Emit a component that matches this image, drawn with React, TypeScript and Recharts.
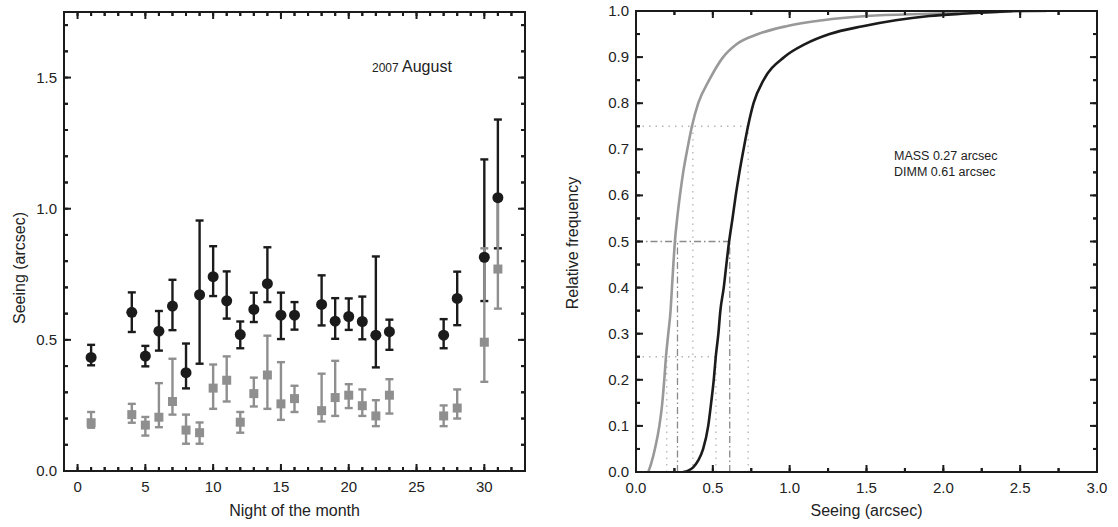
import React from "react";
import { ComposedChart, Scatter, ErrorBar, Line, XAxis, YAxis, ReferenceLine, ReferenceArea } from "recharts";

// nightly medians with lower / upper whisker values (arcsec)
const NIGHTS = [1, 4, 5, 6, 7, 8, 9, 10, 11, 12, 13, 14, 15, 16, 18, 19, 20, 21, 22, 23, 27, 28, 30, 31];
const DIMM = [0.433, 0.605, 0.438, 0.533, 0.629, 0.375, 0.672, 0.741, 0.649, 0.52, 0.616, 0.714, 0.594, 0.594, 0.635, 0.571, 0.589, 0.57, 0.518, 0.531, 0.518, 0.658, 0.815, 1.042];
const DIMM_LO = [0.403, 0.53, 0.399, 0.459, 0.537, 0.315, 0.409, 0.667, 0.581, 0.468, 0.568, 0.644, 0.503, 0.539, 0.555, 0.504, 0.538, 0.502, 0.395, 0.462, 0.468, 0.556, 0.648, 0.849];
const DIMM_HI = [0.481, 0.681, 0.477, 0.61, 0.729, 0.486, 0.955, 0.857, 0.761, 0.57, 0.68, 0.853, 0.68, 0.644, 0.746, 0.659, 0.658, 0.665, 0.818, 0.577, 0.579, 0.76, 1.188, 1.34];
const MASS = [0.184, 0.215, 0.175, 0.205, 0.265, 0.156, 0.146, 0.316, 0.346, 0.186, 0.295, 0.366, 0.256, 0.276, 0.23, 0.28, 0.289, 0.249, 0.21, 0.289, 0.21, 0.24, 0.491, 0.77];
const MASS_LO = [0.165, 0.184, 0.135, 0.167, 0.215, 0.104, 0.104, 0.237, 0.265, 0.146, 0.246, 0.237, 0.195, 0.225, 0.189, 0.21, 0.24, 0.21, 0.171, 0.219, 0.171, 0.2, 0.34, 0.619];
const MASS_HI = [0.225, 0.256, 0.206, 0.335, 0.428, 0.215, 0.185, 0.406, 0.437, 0.225, 0.356, 0.516, 0.415, 0.325, 0.371, 0.42, 0.331, 0.311, 0.27, 0.35, 0.25, 0.311, 0.849, 1.03];

// cumulative distributions
const MASS_CDF_X = [0.08, 0.1, 0.123, 0.152, 0.171, 0.184, 0.195, 0.21, 0.225, 0.234, 0.243, 0.253, 0.268, 0.286, 0.307, 0.334, 0.364, 0.405, 0.476, 0.567, 0.654, 0.794, 0.978, 1.216, 1.5, 1.91, 2.34, 2.67];
const MASS_CDF_Y = [0, 0.02, 0.05, 0.1, 0.15, 0.2, 0.25, 0.3, 0.35, 0.4, 0.45, 0.5, 0.55, 0.6, 0.65, 0.7, 0.75, 0.8, 0.85, 0.9, 0.928, 0.95, 0.967, 0.98, 0.989, 0.994, 0.998, 1.0];
const DIMM_CDF_X = [0.307, 0.34, 0.372, 0.405, 0.437, 0.47, 0.489, 0.506, 0.519, 0.536, 0.549, 0.571, 0.588, 0.606, 0.628, 0.649, 0.673, 0.7, 0.729, 0.765, 0.83, 0.965, 1.1, 1.26, 1.476, 1.69, 1.91, 2.12, 2.34, 2.45];
const DIMM_CDF_Y = [0, 0.003, 0.01, 0.025, 0.05, 0.1, 0.15, 0.2, 0.25, 0.3, 0.35, 0.4, 0.45, 0.5, 0.55, 0.6, 0.65, 0.7, 0.75, 0.8, 0.85, 0.9, 0.928, 0.95, 0.967, 0.98, 0.989, 0.994, 0.998, 1.0];

// quartile guide lines
const QUANT_LEVELS = [0.25, 0.5, 0.75];
const MASS_Q = [0.2, 0.27, 0.37];
const DIMM_Q = [0.52, 0.61, 0.73];

// ticks
const NIGHT_TICKS = [-1, 0, 1, 2, 3, 4, 5, 6, 7, 8, 9, 10, 11, 12, 13, 14, 15, 16, 17, 18, 19, 20, 21, 22, 23, 24, 25, 26, 27, 28, 29, 30, 31, 32, 33];
const SEEING_TICKS = [0, 0.1, 0.2, 0.3, 0.4, 0.5, 0.6, 0.7, 0.8, 0.9, 1.0, 1.1, 1.2, 1.3, 1.4, 1.5, 1.6, 1.7];
const CDF_X_TICKS = [0, 0.25, 0.5, 0.75, 1.0, 1.25, 1.5, 1.75, 2.0, 2.25, 2.5, 2.75, 3.0];
const CDF_Y_TICKS = [0, 0.05, 0.1, 0.15, 0.2, 0.25, 0.3, 0.35, 0.4, 0.45, 0.5, 0.55, 0.6, 0.65, 0.7, 0.75, 0.8, 0.85, 0.9, 0.95, 1.0];

const FONT = "'Liberation Sans', Arial, Helvetica, sans-serif";
const BLACK = "#1b1b1b";
const GREY = "#8f8f8f";

const dimmData = NIGHTS.map((n, i) => ({ night: n, v: DIMM[i], err: [DIMM[i] - DIMM_LO[i], DIMM_HI[i] - DIMM[i]] }));
const massData = NIGHTS.map((n, i) => ({ night: n, v: MASS[i], err: [MASS[i] - MASS_LO[i], MASS_HI[i] - MASS[i]] }));
const massCdf = MASS_CDF_X.map((x, i) => ({ x, y: MASS_CDF_Y[i] }));
const dimmCdf = DIMM_CDF_X.map((x, i) => ({ x, y: DIMM_CDF_Y[i] }));

type Side = "bottom" | "top" | "left" | "right";

const near = (v: number, step: number) => Math.abs(v / step - Math.round(v / step)) < 1e-6;

// major ticks get a longer inward mark and (bottom / left) a label
function makeTick(side: Side, majorStep: number, digits: number | null) {
  return function AxisTick(props: any) {
    const x = Number(props.x);
    const y = Number(props.y);
    const v = Number(props.payload.value);
    const major = near(v, majorStep);
    const len = major ? 7 : 4;
    let x2 = x;
    let y2 = y;
    if (side === "bottom") y2 = y - len;
    if (side === "top") y2 = y + len;
    if (side === "left") x2 = x + len;
    if (side === "right") x2 = x - len;
    const txt = digits === null ? String(Math.round(v)) : v.toFixed(digits);
    return (
      <g>
        <path d={`M${x},${y}L${x2},${y2}`} stroke={BLACK} strokeWidth={2} />
        {major && side === "bottom" && (
          <text x={x} y={y + 21} textAnchor="middle" fontSize={15} fontFamily={FONT} fill="#222">
            {txt}
          </text>
        )}
        {major && side === "left" && (
          <text x={x - 7} y={y + 5} textAnchor="end" fontSize={15} fontFamily={FONT} fill="#222">
            {txt}
          </text>
        )}
      </g>
    );
  };
}

const NightBottomTick = makeTick("bottom", 5, null);
const NightTopTick = makeTick("top", 5, null);
const SeeingLeftTick = makeTick("left", 0.5, 1);
const SeeingRightTick = makeTick("right", 0.5, 1);
const CdfBottomTick = makeTick("bottom", 0.5, 1);
const CdfTopTick = makeTick("top", 0.5, 1);
const CdfLeftTick = makeTick("left", 0.1, 1);
const CdfRightTick = makeTick("right", 0.1, 1);

function makeXTitle(text: string, dy: number) {
  return function XTitle(props: any) {
    const vb = props.viewBox;
    return (
      <text x={vb.x + vb.width / 2} y={vb.y + dy} textAnchor="middle" fontSize={16} fontFamily={FONT} fill="#222">
        {text}
      </text>
    );
  };
}

function makeYTitle(text: string, cx: number, cy: number) {
  return function YTitle() {
    return (
      <text x={cx} y={cy} transform={`rotate(-90 ${cx} ${cy})`} textAnchor="middle" fontSize={16} fontFamily={FONT} fill="#222">
        {text}
      </text>
    );
  };
}

const NightTitle = makeXTitle("Night of the month", 45);
const SeeingYTitle = makeYTitle("Seeing (arcsec)", 25, 268);
const SeeingXTitle = makeXTitle("Seeing (arcsec)", 44);
const FreqTitle = makeYTitle("Relative frequency", 33, 243);

const axisLine = { stroke: BLACK, strokeWidth: 2 };
const tickLine = { stroke: BLACK, strokeWidth: 2 };
const axisCommon = {
  type: "number" as const,
  allowDataOverflow: true,
  interval: 0 as const,
  tickSize: -4,
  tickMargin: 4,
  axisLine,
  tickLine,
};
const noShape = () => <g />;

function NightlyChart() {
  return (
    <ComposedChart width={545} height={527} margin={{ top: 11, right: 19, bottom: 0, left: 0 }}>
      <XAxis {...axisCommon} xAxisId="b" dataKey="night" domain={[-1, 33]} ticks={NIGHT_TICKS} height={56} tick={NightBottomTick} label={{ content: NightTitle }} />
      <XAxis {...axisCommon} xAxisId="t" dataKey="night" orientation="top" domain={[-1, 33]} ticks={NIGHT_TICKS} height={1} tick={NightTopTick} />
      <YAxis {...axisCommon} yAxisId="l" dataKey="v" domain={[0, 1.75]} ticks={SEEING_TICKS} width={64} tick={SeeingLeftTick} label={{ content: SeeingYTitle }} />
      <YAxis {...axisCommon} yAxisId="r" dataKey="v" orientation="right" domain={[0, 1.75]} ticks={SEEING_TICKS} width={1} tick={SeeingRightTick} />
      <ReferenceArea xAxisId="b" yAxisId="l" x1={-1} x2={33} y1={0} y2={1.75} fill="none" stroke={BLACK} strokeWidth={2} />
      {/* hidden series so the mirrored axes get drawn */}
      <Scatter xAxisId="t" yAxisId="r" data={dimmData} dataKey="v" isAnimationActive={false} shape={noShape} />
      <Scatter
        xAxisId="b"
        yAxisId="l"
        data={dimmData}
        dataKey="v"
        isAnimationActive={false}
        shape={(p: any) => <circle cx={p.cx} cy={p.cy} r={5.5} fill={BLACK} />}
      >
        <ErrorBar dataKey="err" direction="y" width={4} stroke={BLACK} strokeWidth={2.4} isAnimationActive={false} />
      </Scatter>
      <Scatter
        xAxisId="b"
        yAxisId="l"
        data={massData}
        dataKey="v"
        isAnimationActive={false}
        shape={(p: any) => <rect x={p.cx - 4.5} y={p.cy - 4.5} width={9} height={9} fill={GREY} />}
      >
        <ErrorBar dataKey="err" direction="y" width={4} stroke={GREY} strokeWidth={2.4} isAnimationActive={false} />
      </Scatter>
    </ComposedChart>
  );
}

function CdfChart() {
  const guides: any[] = [];
  QUANT_LEVELS.forEach((lvl, i) => {
    const dash = i === 1 ? "7 3 1.5 3" : "1.5 5";
    const color = i === 1 ? "#8a8a8a" : "#b5b5b5";
    guides.push({ seg: [{ x: 0, y: lvl }, { x: DIMM_Q[i], y: lvl }], dash, color });
    guides.push({ seg: [{ x: MASS_Q[i], y: 0 }, { x: MASS_Q[i], y: lvl }], dash, color });
    guides.push({ seg: [{ x: DIMM_Q[i], y: 0 }, { x: DIMM_Q[i], y: lvl }], dash, color });
  });
  return (
    <ComposedChart width={573} height={527} margin={{ top: 10, right: 20, bottom: 0, left: 0 }}>
      <XAxis {...axisCommon} xAxisId="b" dataKey="x" domain={[0, 3]} ticks={CDF_X_TICKS} height={55} tick={CdfBottomTick} label={{ content: SeeingXTitle }} />
      <XAxis {...axisCommon} xAxisId="t" dataKey="x" orientation="top" domain={[0, 3]} ticks={CDF_X_TICKS} height={1} tick={CdfTopTick} />
      <YAxis {...axisCommon} yAxisId="l" dataKey="y" domain={[0, 1]} ticks={CDF_Y_TICKS} width={91} tick={CdfLeftTick} label={{ content: FreqTitle }} />
      <YAxis {...axisCommon} yAxisId="r" dataKey="y" orientation="right" domain={[0, 1]} ticks={CDF_Y_TICKS} width={1} tick={CdfRightTick} />
      <ReferenceArea xAxisId="b" yAxisId="l" x1={0} x2={3} y1={0} y2={1} fill="none" stroke={BLACK} strokeWidth={2} />
      {guides.map((g, i) => (
        <ReferenceLine key={i} xAxisId="b" yAxisId="l" segment={g.seg} stroke={g.color} strokeWidth={1.3} strokeDasharray={g.dash} />
      ))}
      <Line xAxisId="t" yAxisId="r" data={massCdf} dataKey="y" stroke="none" dot={false} isAnimationActive={false} />
      <Line xAxisId="b" yAxisId="l" data={massCdf} dataKey="y" type="monotone" stroke="#999999" strokeWidth={2.6} dot={false} isAnimationActive={false} />
      <Line xAxisId="b" yAxisId="l" data={dimmCdf} dataKey="y" type="monotone" stroke={BLACK} strokeWidth={2.6} dot={false} isAnimationActive={false} />
    </ComposedChart>
  );
}

export default function App() {
  const note: React.CSSProperties = { position: "absolute", fontFamily: FONT, color: "#222", whiteSpace: "nowrap" };
  return (
    <div style={{ position: "absolute", left: 0, top: 0, width: 1118, height: 527, background: "#fff" }}>
      <div style={{ position: "absolute", left: 0, top: 0 }}>
        <NightlyChart />
      </div>
      <div style={{ position: "absolute", left: 545, top: 0 }}>
        <CdfChart />
      </div>
      <div style={{ ...note, left: 372, top: 58 }}>
        <span style={{ fontSize: 12 }}>2007 </span>
        <span style={{ fontSize: 16 }}>August</span>
      </div>
      <div style={{ ...note, left: 894, top: 148, fontSize: 12.5, lineHeight: "16px" }}>
        MASS 0.27 arcsec
        <br />
        DIMM 0.61 arcsec
      </div>
    </div>
  );
}
